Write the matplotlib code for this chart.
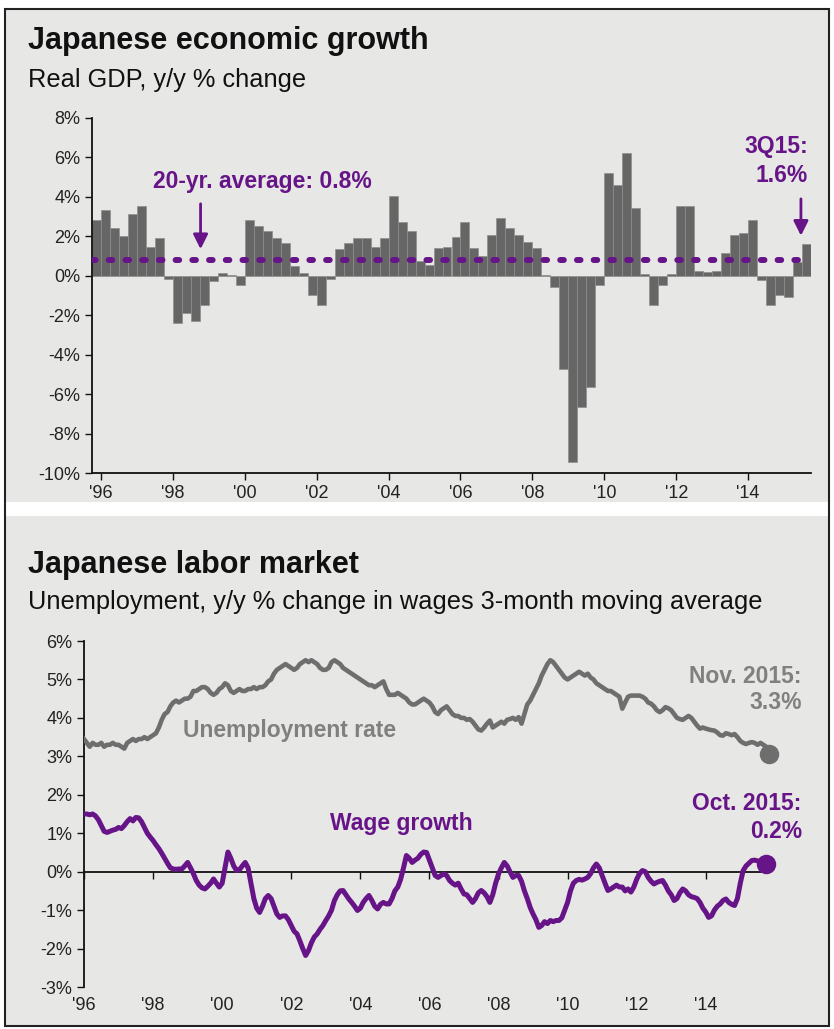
import numpy as np
import matplotlib.pyplot as plt
from matplotlib.patches import Rectangle

plt.rcParams['font.family'] = ['Liberation Sans', 'DejaVu Sans']

# Real GDP y/y % change, quarterly, 4Q95 .. 3Q15
gdp_growth = [2.83,
              3.34, 2.42, 2.00, 3.14,
              3.56, 1.47, 1.92, -0.14,
              -2.40, -1.90, -2.30, -1.49,
              -0.25, 0.15, 0.02, -0.47,
              2.85, 2.50, 2.29, 1.90,
              1.66, 0.50, 0.12, -0.98,
              -1.49, -0.14, 1.36, 1.66,
              1.90, 1.90, 1.47, 1.90,
              4.03, 2.71, 2.29, 0.76,
              0.56, 1.39, 1.47, 1.98,
              2.71, 1.39, 0.98, 2.08,
              2.93, 2.41, 2.07, 1.69,
              1.39, 0.02, -0.56, -4.71,
              -9.46, -6.66, -5.64, -0.47,
              5.20, 4.58, 6.24, 3.44,
              0.10, -1.49, -0.46, 0.10,
              3.53, 3.53, 0.22, 0.17,
              0.25, 1.15, 2.08, 2.15,
              2.83, -0.22, -1.49, -0.98,
              -1.07, 0.70, 1.60]
gdp_start = 1995.75
gdp_avg = 0.8

# Unemployment rate, monthly, Jan 1996 .. Nov 2015
unemp = [3.45, 3.35, 3.25, 3.35, 3.3, 3.3, 3.35, 3.25, 3.3, 3.3, 3.35, 3.3,
         3.3, 3.25, 3.2, 3.35, 3.4, 3.45, 3.4, 3.45, 3.45, 3.5, 3.45, 3.5,
         3.55, 3.6, 3.75, 3.95, 4.1, 4.15, 4.3, 4.4, 4.45, 4.4, 4.45, 4.5,
         4.5, 4.55, 4.7, 4.7, 4.75, 4.8, 4.8, 4.75, 4.65, 4.6, 4.65, 4.75,
         4.8, 4.9, 4.85, 4.7, 4.65, 4.7, 4.75, 4.7, 4.7, 4.75, 4.75, 4.8,
         4.75, 4.8, 4.8, 4.85, 4.95, 5.0, 5.15, 5.25, 5.3, 5.35, 5.4, 5.35,
         5.3, 5.25, 5.3, 5.4, 5.45, 5.5, 5.45, 5.5, 5.45, 5.4, 5.3, 5.25,
         5.25, 5.3, 5.45, 5.5, 5.45, 5.4, 5.3, 5.25, 5.2, 5.15, 5.1, 5.05,
         5.0, 4.95, 4.9, 4.85, 4.85, 4.8, 4.85, 4.9, 4.95, 4.75, 4.6, 4.6,
         4.6, 4.65, 4.6, 4.55, 4.5, 4.4, 4.35, 4.35, 4.4, 4.45, 4.5, 4.45,
         4.4, 4.3, 4.15, 4.1, 4.2, 4.25, 4.3, 4.2, 4.1, 4.05, 4.05, 4.0,
         4.0, 3.95, 3.97, 3.9, 3.8, 3.7, 3.67, 3.75, 3.85, 3.93, 3.75, 3.8,
         3.85, 3.9, 3.85, 3.95, 3.97, 4.0, 3.95, 4.02, 3.85, 4.1, 4.35, 4.45,
         4.6, 4.75, 4.9, 5.1, 5.25, 5.4, 5.5, 5.45, 5.35, 5.25, 5.15, 5.05,
         5.0, 5.05, 5.1, 5.15, 5.2, 5.15, 5.1, 5.15, 5.05, 5.0, 4.9, 4.85,
         4.8, 4.75, 4.7, 4.7, 4.65, 4.6, 4.55, 4.24, 4.4, 4.55, 4.58, 4.58,
         4.58, 4.58, 4.55, 4.5, 4.4, 4.37, 4.3, 4.2, 4.15, 4.2, 4.28, 4.25,
         4.2, 4.1, 4.0, 3.97, 3.95, 4.0, 4.05, 4.0, 3.9, 3.8, 3.72, 3.75,
         3.72, 3.7, 3.68, 3.67, 3.62, 3.55, 3.54, 3.6, 3.58, 3.55, 3.58, 3.5,
         3.4, 3.35, 3.32, 3.35, 3.37, 3.35, 3.3, 3.35, 3.3, 3.25, 3.05]

# Wage growth y/y, 3-month moving average, monthly, Jan 1996 .. Oct 2015
wages = [1.5, 1.5, 1.48, 1.5, 1.45, 1.35, 1.2, 1.05, 1.02, 1.05, 1.08, 1.1,
         1.15, 1.12, 1.2, 1.3, 1.38, 1.32, 1.41, 1.4, 1.3, 1.15, 1.0, 0.9,
         0.81, 0.7, 0.6, 0.48, 0.35, 0.22, 0.1, 0.07, 0.06, 0.07, 0.07, 0.15,
         0.24, 0.1, -0.05, -0.23, -0.35, -0.42, -0.45, -0.38, -0.3, -0.19, -0.3, -0.4,
         -0.3, 0.1, 0.51, 0.35, 0.15, 0.03, 0.05, 0.15, 0.24, 0.1, -0.3, -0.7,
         -0.95, -1.06, -0.9, -0.7, -0.62, -0.7, -0.9, -1.1, -1.19, -1.15, -1.15, -1.25,
         -1.4, -1.55, -1.62, -1.8, -2.0, -2.18, -2.05, -1.85, -1.7, -1.62, -1.5, -1.4,
         -1.27, -1.15, -1.0, -0.75, -0.6, -0.5, -0.49, -0.6, -0.71, -0.8, -0.9, -1.01,
         -0.95, -0.8, -0.7, -0.62, -0.75, -0.9, -0.97, -0.85, -0.8, -0.84, -0.84, -0.7,
         -0.5, -0.4, -0.2, 0.1, 0.42, 0.35, 0.24, 0.3, 0.35, 0.45, 0.51, 0.5,
         0.3, 0.1, -0.1, -0.15, -0.1, -0.06, -0.1, -0.23, -0.3, -0.35, -0.3, -0.45,
         -0.58, -0.6, -0.7, -0.8, -0.7, -0.55, -0.49, -0.55, -0.65, -0.8, -0.6, -0.3,
         -0.06, 0.1, 0.24, 0.15, 0.0, -0.15, -0.1, -0.1, -0.25, -0.5, -0.7, -0.93,
         -1.1, -1.25, -1.45, -1.4, -1.3, -1.35, -1.27, -1.3, -1.27, -1.27, -1.2, -1.0,
         -0.8, -0.5, -0.3, -0.23, -0.2, -0.22, -0.19, -0.15, -0.05, 0.1, 0.2, 0.1,
         -0.1, -0.3, -0.49, -0.45, -0.4, -0.35, -0.4, -0.4, -0.5, -0.45, -0.53, -0.4,
         -0.2, -0.05, 0.03, 0.0, -0.15, -0.25, -0.32, -0.28, -0.25, -0.23, -0.35, -0.5,
         -0.6, -0.75, -0.7, -0.55, -0.45, -0.5, -0.6, -0.65, -0.67, -0.7, -0.8, -0.95,
         -1.05, -1.19, -1.15, -1.0, -0.9, -0.84, -0.75, -0.71, -0.8, -0.85, -0.88, -0.7,
         -0.3, 0.03, 0.15, 0.22, 0.29, 0.3, 0.28, 0.25, 0.22, 0.2]

year_ticks = list(range(1996, 2015, 2))
year_labels = ["'%02d" % (y % 100) for y in year_ticks]

purple = '#661487'
bar_gray = '#666666'
line_gray = '#6e6e6e'
text_gray = '#808080'
panel = '#e7e7e5'

W, H = 834, 1029
fig = plt.figure(figsize=(W / 100, H / 100), dpi=100)
fig.patch.set_facecolor('white')


def fbox(x0, y0, x1, y1):
    # pixel box (top-left origin) -> figure fraction [left, bottom, width, height]
    return [x0 / W, 1 - y1 / H, (x1 - x0) / W, (y1 - y0) / H]


# panel backgrounds and frame
for y0, y1 in [(9, 502), (516, 1026)]:
    l, b, w, h = fbox(5, y0, 829, y1)
    fig.patches.append(Rectangle((l, b), w, h, transform=fig.transFigure,
                                 facecolor=panel, edgecolor='none', zorder=-2))
l, b, w, h = fbox(5, 9, 829, 1026)
fig.patches.append(Rectangle((l, b), w, h, transform=fig.transFigure,
                             facecolor='none', edgecolor='#222222', lw=1.5, zorder=-1))

# titles
fig.text(28 / W, 1 - 49 / H, 'Japanese economic growth', fontsize=22,
         fontweight='bold', color='#111111', va='baseline')
fig.text(28 / W, 1 - 87 / H, 'Real GDP, y/y % change', fontsize=18.3,
         color='#111111', va='baseline')
fig.text(28 / W, 1 - 573 / H, 'Japanese labor market', fontsize=22,
         fontweight='bold', color='#111111', va='baseline')
fig.text(28 / W, 1 - 609 / H,
         'Unemployment, y/y % change in wages 3-month moving average',
         fontsize=18.3, color='#111111', va='baseline')

# ---- top chart: GDP bars ----
quarters = gdp_start + 0.25 * np.arange(len(gdp_growth))
ax1 = fig.add_axes(fbox(92, 118, 811, 473))
ax1.set_facecolor('none')
ax1.bar(quarters, gdp_growth, width=0.25, align='edge', color=bar_gray,
        edgecolor='#8e8e8e', linewidth=0.5, zorder=2)
ax1.plot([quarters[0], quarters[-1]], [gdp_avg, gdp_avg], color=purple, lw=4.3,
         dashes=(0.6, 2.2), dash_capstyle='round', zorder=3)
ax1.set_xlim(gdp_start, quarters[-1] + 0.25)
ax1.set_ylim(-10, 8)
ax1.set_yticks(range(-10, 9, 2))
ax1.set_yticklabels(['%d%%' % v for v in range(-10, 9, 2)])
ax1.set_xticks(year_ticks)
ax1.set_xticklabels(year_labels)
for s in ['top', 'right']:
    ax1.spines[s].set_visible(False)
for s in ['left', 'bottom']:
    ax1.spines[s].set_linewidth(1.3)
    ax1.spines[s].set_color('#111111')
ax1.tick_params(direction='out', length=5, width=1, labelsize=13,
                labelcolor='#222222', color='#111111')

ax1.annotate('', xy=(1998.77, 1.35), xytext=(1998.77, 3.65),
             arrowprops=dict(arrowstyle='-|>', color=purple, lw=2,
                             mutation_scale=22, shrinkA=0, shrinkB=0))
ax1.text(2000.5, 4.77, '20-yr. average: %.1f%%' % gdp_avg, fontsize=16.5,
         fontweight='bold', color=purple, ha='center', va='center')
ax1.annotate('', xy=(2015.47, 2.03), xytext=(2015.47, 3.9),
             arrowprops=dict(arrowstyle='-|>', color=purple, lw=2,
                             mutation_scale=22, shrinkA=0, shrinkB=0))
ax1.text(2015.67, 5.81, '3Q15:\n%.1f%%' % gdp_growth[-1], fontsize=16.5,
         fontweight='bold', color=purple, ha='right', va='center',
         multialignment='right', linespacing=1.3)

# ---- bottom chart: labor market ----
months_u = 1996 + np.arange(len(unemp)) / 12
months_w = 1996 + np.arange(len(wages)) / 12
ax2 = fig.add_axes(fbox(84, 641, 770, 987))
ax2.set_facecolor('none')
ax2.plot(months_u, unemp, color=line_gray, lw=3.3, zorder=3)
ax2.plot(months_w, wages, color=purple, lw=3.6, zorder=3)
ax2.plot(months_u[-1], unemp[-1], 'o', ms=13, color=line_gray, zorder=4,
         clip_on=False)
ax2.plot(months_w[-1], wages[-1], 'o', ms=13, color=purple, zorder=4,
         clip_on=False)
ax2.set_xlim(1996, 2015.86)
ax2.set_ylim(-3, 6)
ax2.set_yticks(range(-3, 7))
ax2.set_yticklabels(['%d%%' % v for v in range(-3, 7)])
ax2.set_xticks(year_ticks)
ax2.tick_params(axis='x', labelbottom=False)
for s in ['top', 'right']:
    ax2.spines[s].set_visible(False)
ax2.spines['bottom'].set_position(('data', 0))
for s in ['left', 'bottom']:
    ax2.spines[s].set_linewidth(1.3)
    ax2.spines[s].set_color('#111111')
ax2.tick_params(direction='out', length=5, width=1, labelsize=13,
                labelcolor='#222222', color='#111111')
for yr, lab in zip(year_ticks, year_labels):
    ax2.text(yr, -3.25, lab, fontsize=13, color='#222222', ha='center', va='top')

ax2.text(1998.87, 3.67, 'Unemployment rate', fontsize=16.5, fontweight='bold',
         color=text_gray, ha='left', va='center')
ax2.text(2003.12, 1.25, 'Wage growth', fontsize=16.5, fontweight='bold',
         color=purple, ha='left', va='center')
ax2.text(2016.78, 4.74, 'Nov. 2015:\n3.3%', fontsize=16.5, fontweight='bold',
         color=text_gray, ha='right', va='center', multialignment='right',
         linespacing=1.2)
ax2.text(2016.78, 1.41, 'Oct. 2015:\n%.1f%%' % wages[-1], fontsize=16.5,
         fontweight='bold', color=purple, ha='right', va='center',
         multialignment='right', linespacing=1.25)

fig.savefig('out.png', dpi=100, facecolor='white')
